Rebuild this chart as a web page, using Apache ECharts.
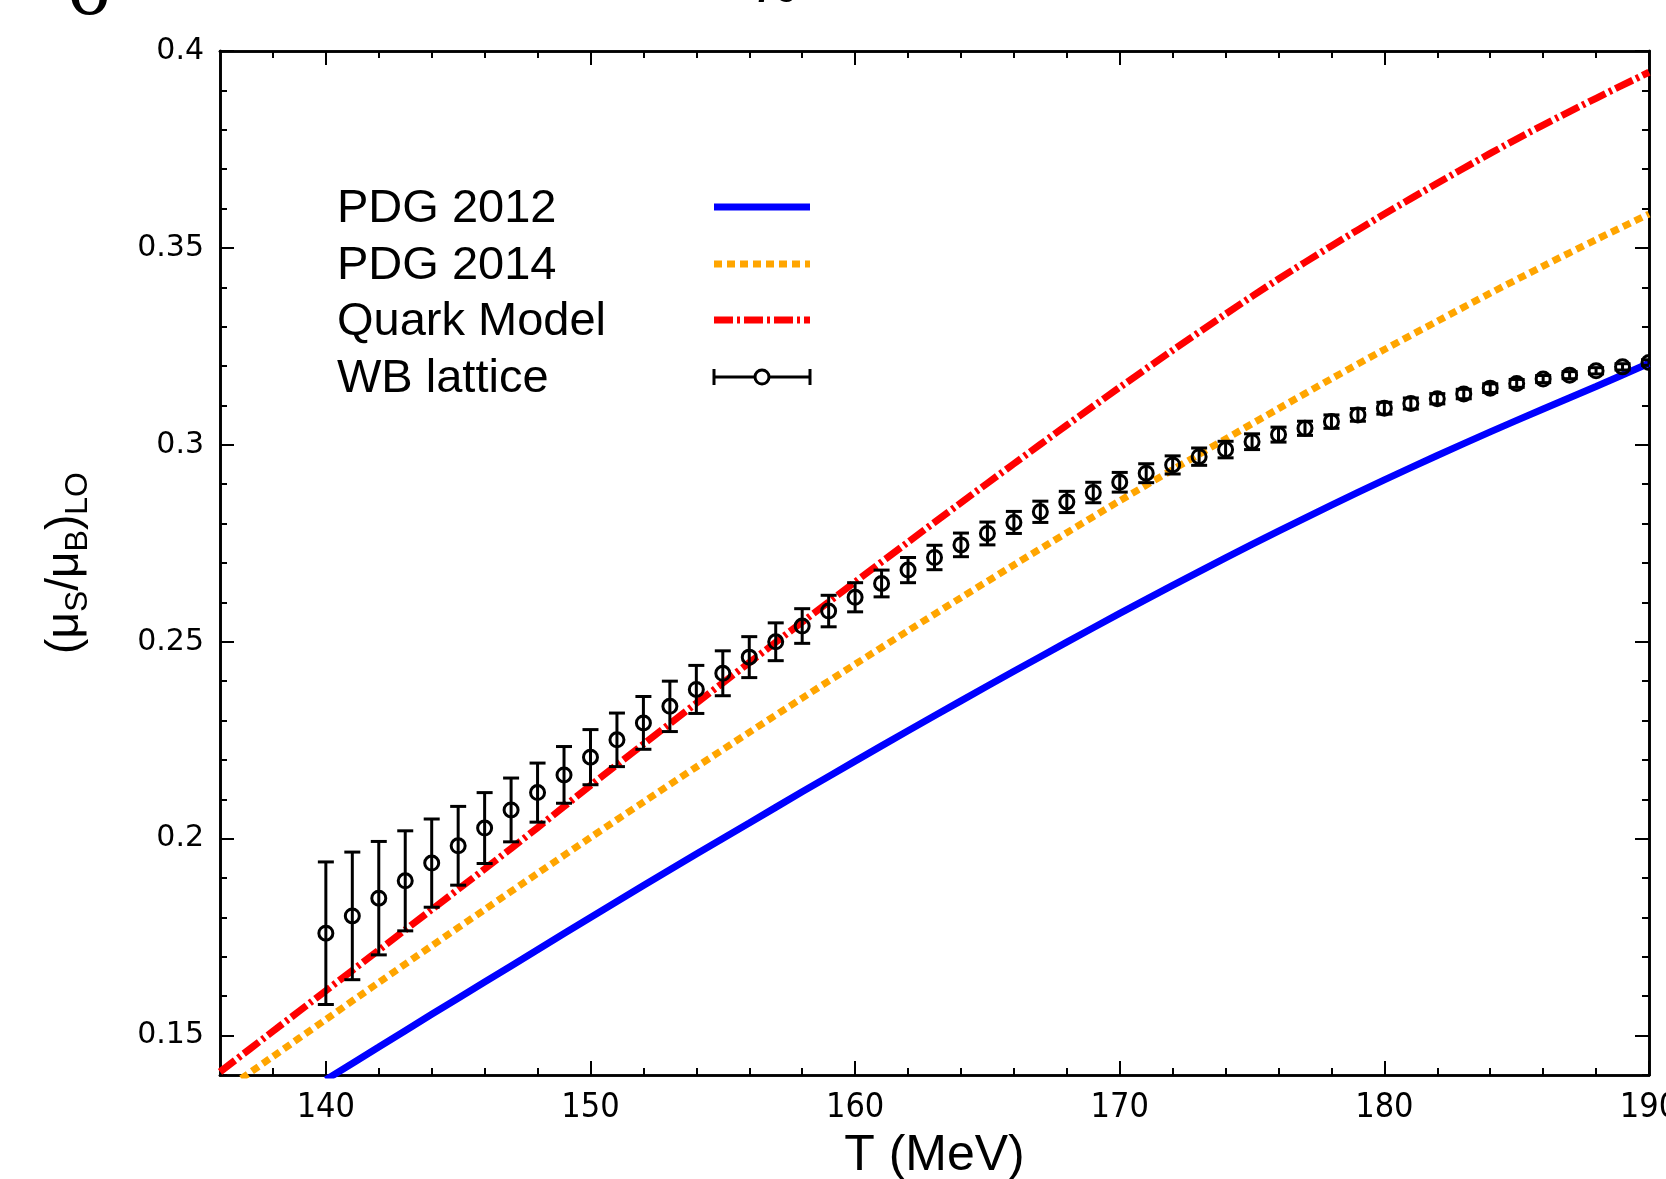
<!DOCTYPE html>
<html>
<head>
<meta charset="utf-8">
<script src="https://cdn.jsdelivr.net/npm/echarts@6/dist/echarts.min.js"></script>
<style>
  html, body { margin: 0; padding: 0; background: #fff; }
  #chart { width: 1666px; height: 1179px; }
</style>
</head>
<body>
<div id="chart"></div>
<script>
// temperatures for the model curves (MeV)
var tCurve = [136,138,140,142,144,146,148,150,152,154,156,158,160,162,164,166,168,170,172,174,176,178,180,182,184,186,188,190];
var pdg2012 = [null,null,0.1388,0.1471,0.1554,0.1636,0.1718,0.1800,0.1881,0.1961,0.2040,0.2119,0.2197,0.2274,0.2350,0.2425,0.2499,0.2572,0.2643,0.2713,0.2781,0.2847,0.2911,0.2973,0.3033,0.3091,0.3148,0.3207];
var pdg2014 = [0.1353,0.1447,0.1541,0.1635,0.1728,0.1820,0.1912,0.2003,0.2093,0.2182,0.2270,0.2357,0.2443,0.2528,0.2612,0.2695,0.2777,0.2858,0.2937,0.3015,0.3092,0.3168,0.3242,0.3314,0.3385,0.3454,0.3521,0.3586];
var quarkModel = [0.1408,0.1511,0.1614,0.1717,0.1820,0.1923,0.2028,0.2135,0.2240,0.2344,0.2447,0.2550,0.2652,0.2753,0.2853,0.2952,0.3050,0.3146,0.3240,0.3332,0.3421,0.3505,0.3586,0.3664,0.3740,0.3812,0.3880,0.3946];

// WB lattice points
var tLattice = [140,141,142,143,144,145,146,147,148,149,150,151,152,153,154,155,156,157,158,159,160,161,162,163,164,165,166,167,168,169,170,171,172,173,174,175,176,177,178,179,180,181,182,183,184,185,186,187,188,189,190];
var latticeMean = [0.1760,0.1804,0.1849,0.1893,0.1938,0.1982,0.2027,0.2073,0.2117,0.2162,0.2207,0.2251,0.2294,0.2336,0.2379,0.2420,0.2461,0.2500,0.2540,0.2578,0.2613,0.2648,0.2682,0.2714,0.2746,0.2775,0.2803,0.2830,0.2855,0.2879,0.2905,0.2928,0.2949,0.2970,0.2988,0.3008,0.3026,0.3042,0.3059,0.3076,0.3093,0.3105,0.3117,0.3129,0.3144,0.3156,0.3167,0.3177,0.3188,0.3198,0.3209];
var latticeErr = [0.0181,0.0162,0.0144,0.0127,0.0112,0.0100,0.0090,0.0081,0.0075,0.0072,0.0070,0.0068,0.0067,0.0064,0.0061,0.0057,0.0052,0.0048,0.0044,0.0040,0.0037,0.0034,0.0032,0.0031,0.0030,0.0029,0.0028,0.0027,0.0027,0.0026,0.0025,0.0024,0.0023,0.0022,0.0021,0.0020,0.0019,0.0018,0.0017,0.0016,0.0015,0.0014,0.0013,0.0012,0.0011,0.0010,0.0009,0.0009,0.0008,0.0008,0.0007];

// tick positions
var xMajor = [140,150,160,170,180,190];
var xMinor = [138,142,144,146,148,152,154,156,158,162,164,166,168,172,174,176,178,182,184,186,188];
var yMajor = [0.15,0.2,0.25,0.3,0.35,0.4];
var yMinor = [0.14,0.16,0.17,0.18,0.19,0.21,0.22,0.23,0.24,0.26,0.27,0.28,0.29,0.31,0.32,0.33,0.34,0.36,0.37,0.38,0.39];

var legendNames = ['PDG 2012','PDG 2014','Quark Model','WB lattice'];

var chart = echarts.init(document.getElementById('chart'));

function pairs(xs, ys){
  var out = [];
  for(var i = 0; i < xs.length; i++){
    if(ys[i] != null) out.push([xs[i], ys[i]]);
  }
  return out;
}

var latticeData = [];
for(var i = 0; i < tLattice.length; i++){
  latticeData.push([tLattice[i], latticeMean[i], latticeErr[i]]);
}

function renderLattice(params, api){
  var t = api.value(0), m = api.value(1), e = api.value(2);
  var c = api.coord([t, m]);
  var hi = api.coord([t, m + e]);
  var lo = api.coord([t, m - e]);
  var cap = 8;
  var st = {stroke: '#000', lineWidth: 3};
  return {
    type: 'group',
    children: [
      {type: 'line', shape: {x1: c[0], y1: hi[1], x2: c[0], y2: lo[1]}, style: st},
      {type: 'line', shape: {x1: c[0]-cap, y1: hi[1], x2: c[0]+cap, y2: hi[1]}, style: st},
      {type: 'line', shape: {x1: c[0]-cap, y1: lo[1], x2: c[0]+cap, y2: lo[1]}, style: st},
      {type: 'circle', shape: {cx: c[0], cy: c[1], r: 7}, style: {stroke: '#000', lineWidth: 3, fill: 'none'}}
    ]
  };
}

function xAx(pos, ticks, len, labels){
  return {
    type: 'value', position: pos, min: 136, max: 190,
    axisLine: {show: true, onZero: false, lineStyle: {color: '#000', width: 2.6}},
    axisTick: {show: true, inside: true, length: len, customValues: ticks, lineStyle: {color: '#000', width: 2}},
    axisLabel: labels ? {show: true, customValues: ticks, margin: 16, color: '#000', fontSize: 34,
      fontFamily: '"Liberation Sans Narrow", "DejaVu Sans Condensed", "Liberation Sans", sans-serif'} : {show: false},
    splitLine: {show: false}
  };
}
function yAx(pos, ticks, len, labels){
  return {
    type: 'value', position: pos, min: 0.14, max: 0.4,
    axisLine: {show: true, onZero: false, lineStyle: {color: '#000', width: 2.6}},
    axisTick: {show: true, inside: true, length: len, customValues: ticks, lineStyle: {color: '#000', width: 2}},
    axisLabel: labels ? {show: true, customValues: ticks, margin: 16, color: '#000', fontSize: 30,
      fontFamily: '"DejaVu Sans", sans-serif'} : {show: false},
    splitLine: {show: false}
  };
}

var xMain = xAx('bottom', xMajor, 14, true);
xMain.name = 'T (MeV)';
xMain.nameLocation = 'middle';
xMain.nameGap = 56;
xMain.nameTextStyle = {fontSize: 50, color: '#000', fontFamily: '"Liberation Sans", Arial, sans-serif'};

var yMain = yAx('left', yMajor, 14, true);
yMain.name = '{a|(μ}{s|S}{a|/μ}{s|B}{a|)}{s|LO}';
yMain.nameLocation = 'middle';
yMain.nameGap = 128;
yMain.nameTextStyle = {
  color: '#000',
  rich: {
    a: {fontSize: 46, lineHeight: 50, verticalAlign: 'top', color: '#000', fontFamily: '"Liberation Sans", Arial, sans-serif'},
    s: {fontSize: 32, lineHeight: 32, padding: [20, 0, 0, 0], verticalAlign: 'top', color: '#000', fontFamily: '"Liberation Sans", Arial, sans-serif'}
  }
};

var legendX1 = 714, legendX2 = 810, legendTextX = 337;
var legendY = [207, 264, 320, 377];
var legendFont = '47px "Liberation Sans", Arial, sans-serif';

var graphics = [
  // fragments of text from the figure above, cut by the top edge
  {type: 'text', left: 68, top: -50, style: {text: 'σ', font: '84px "Liberation Serif", serif', fill: '#000'}},
  {type: 'text', left: 758, top: -38, style: {text: '~', font: 'bold 76px "Liberation Serif", serif', fill: '#000'}}
];
for(var k = 0; k < legendNames.length; k++){
  graphics.push({type: 'text', left: legendTextX, top: legendY[k] - 21,
    style: {text: legendNames[k], font: legendFont, fill: '#000'}});
}
graphics.push({type: 'line', shape: {x1: legendX1, y1: legendY[0], x2: legendX2, y2: legendY[0]},
  style: {stroke: '#0000ff', lineWidth: 7}});
graphics.push({type: 'line', shape: {x1: legendX1, y1: legendY[1], x2: legendX2, y2: legendY[1]},
  style: {stroke: '#ffa500', lineWidth: 7, lineDash: [8, 5]}});
graphics.push({type: 'line', shape: {x1: legendX1, y1: legendY[2], x2: legendX2, y2: legendY[2]},
  style: {stroke: '#ff0000', lineWidth: 7, lineDash: [19, 4, 3, 4]}});
graphics.push({type: 'line', shape: {x1: legendX1, y1: legendY[3], x2: legendX2, y2: legendY[3]},
  style: {stroke: '#000', lineWidth: 3}});
graphics.push({type: 'line', shape: {x1: legendX1, y1: legendY[3]-8, x2: legendX1, y2: legendY[3]+8},
  style: {stroke: '#000', lineWidth: 3}});
graphics.push({type: 'line', shape: {x1: legendX2, y1: legendY[3]-8, x2: legendX2, y2: legendY[3]+8},
  style: {stroke: '#000', lineWidth: 3}});
graphics.push({type: 'circle', shape: {cx: (legendX1+legendX2)/2, cy: legendY[3], r: 7},
  style: {stroke: '#000', lineWidth: 3, fill: '#fff'}});

chart.setOption({
  backgroundColor: '#fff',
  animation: false,
  grid: {left: 220, right: 17, top: 51, bottom: 104, containLabel: false, outerBoundsMode: 'none'},
  xAxis: [
    xMain,
    xAx('bottom', xMinor, 7, false),
    xAx('top', xMajor, 14, false),
    xAx('top', xMinor, 7, false)
  ],
  yAxis: [
    yMain,
    yAx('left', yMinor, 7, false),
    yAx('right', yMajor, 14, false),
    yAx('right', yMinor, 7, false)
  ],
  graphic: graphics,
  series: [
    {
      name: 'PDG 2012', type: 'line', data: pairs(tCurve, pdg2012),
      showSymbol: false, clip: true, smooth: 0.3,
      lineStyle: {color: '#0000ff', width: 7}
    },
    {
      name: 'PDG 2014', type: 'line', data: pairs(tCurve, pdg2014),
      showSymbol: false, clip: true, smooth: 0.3,
      lineStyle: {color: '#ffa500', width: 7, type: [8, 5]}
    },
    {
      name: 'Quark Model', type: 'line', data: pairs(tCurve, quarkModel),
      showSymbol: false, clip: true, smooth: 0.3,
      lineStyle: {color: '#ff0000', width: 7, type: [19, 4, 3, 4]}
    },
    {
      name: 'WB lattice', type: 'custom', data: latticeData,
      renderItem: renderLattice, clip: true, z: 5
    }
  ]
});
</script>
</body>
</html>
